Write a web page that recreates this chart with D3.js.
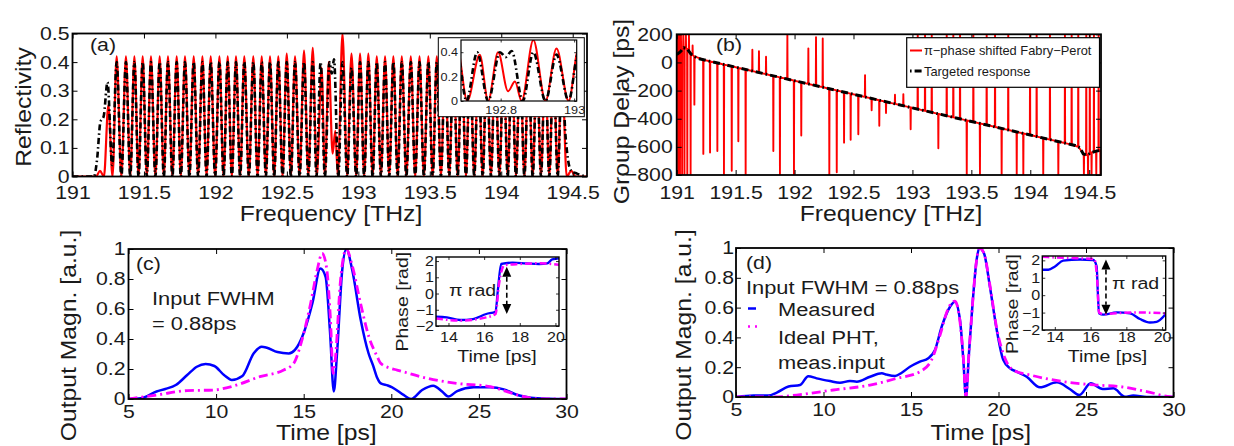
<!DOCTYPE html>
<html>
<head>
<meta charset="utf-8">
<title>Pi-phase shifted Fabry-Perot: reflectivity, group delay and output pulses</title>
<script src="https://cdn.jsdelivr.net/npm/d3@7"></script>
<style>
  html, body { margin: 0; padding: 0; background: #fff; }
  svg { display: block; }
</style>
</head>
<body>
<svg id="fig" width="1234" height="446"></svg>
<script>
// ================= data =================
// (a) reflectivity vs frequency [THz]: [frequency, reflectivity]
const reflMeasured = [
  [191.000,0],[191.165,0],[191.192,0.02],[191.220,0],[191.251,0.25],[191.280,0],[191.309,0.42],
  [191.342,0],[191.374,0.42],[191.404,0],[191.433,0.42],[191.462,0],[191.491,0.42],[191.520,0],
  [191.549,0.42],[191.580,0],[191.610,0.42],[191.639,0],[191.668,0.42],[191.699,0],[191.729,0.42],
  [191.758,0],[191.787,0.42],[191.818,0],[191.848,0.42],[191.879,0],[191.909,0.42],[191.938,0],
  [191.967,0.42],[191.998,0],[192.028,0.42],[192.057,0],[192.086,0.42],[192.115,0],[192.144,0.42],
  [192.173,0],[192.202,0.42],[192.234,0],[192.265,0.42],[192.295,0],[192.324,0.42],[192.353,0],
  [192.382,0.42],[192.411,0],[192.440,0.42],[192.470,0],[192.499,0.43],[192.528,0],[192.557,0.42],
  [192.589,0],[192.620,0.44],[192.650,0],[192.681,0.45],[192.709,0],[192.743,0.38],[192.766,0],
  [192.793,0.40],[192.820,0.08],[192.839,0.16],[192.857,0],[192.889,0.50],[192.922,0],[192.952,0.43],
  [192.985,0],[193.012,0.43],[193.041,0],[193.070,0.43],[193.100,0],[193.129,0.42],[193.158,0],
  [193.187,0.42],[193.216,0],[193.245,0.42],[193.275,0],[193.304,0.42],[193.336,0],[193.367,0.42],
  [193.398,0],[193.428,0.42],[193.459,0],[193.490,0.42],[193.520,0],[193.549,0.42],[193.578,0],
  [193.607,0.42],[193.636,0],[193.665,0.42],[193.695,0],[193.724,0.42],[193.753,0],[193.782,0.42],
  [193.811,0],[193.840,0.42],[193.870,0],[193.899,0.42],[193.928,0],[193.957,0.42],[193.987,0],
  [194.016,0.42],[194.045,0],[194.074,0.42],[194.103,0],[194.132,0.41],[194.162,0],[194.191,0.41],
  [194.220,0],[194.249,0.41],[194.278,0],[194.307,0.41],[194.336,0],[194.365,0.41],[194.395,0],
  [194.424,0.40],[194.458,0],[194.490,0.02],[194.520,0],[194.600,0]
];
const reflTarget = [
  [191.000,0],[191.150,0],[191.172,0.06],[191.195,0.19],[191.218,0.21],[191.245,0.33],[191.278,0.04],
  [191.309,0.40],[191.342,0],[191.374,0.40],[191.404,0],[191.433,0.40],[191.462,0],[191.491,0.40],
  [191.520,0],[191.549,0.40],[191.580,0],[191.610,0.40],[191.639,0],[191.668,0.40],[191.699,0],
  [191.729,0.40],[191.758,0],[191.787,0.40],[191.818,0],[191.848,0.40],[191.879,0],[191.909,0.40],
  [191.938,0],[191.967,0.40],[191.998,0],[192.028,0.40],[192.057,0],[192.086,0.40],[192.115,0],
  [192.144,0.40],[192.173,0],[192.202,0.40],[192.234,0],[192.265,0.40],[192.295,0],[192.324,0.40],
  [192.353,0],[192.382,0.40],[192.411,0],[192.440,0.40],[192.470,0],[192.499,0.40],[192.528,0],
  [192.557,0.40],[192.589,0],[192.620,0.40],[192.650,0],[192.681,0.40],[192.707,0],[192.736,0.40],
  [192.766,0],[192.798,0.40],[192.814,0.36],[192.830,0.41],[192.860,0],[192.889,0.40],[192.922,0],
  [192.952,0.38],[192.985,0],[193.012,0.40],[193.041,0],[193.070,0.40],[193.100,0],[193.129,0.40],
  [193.158,0],[193.187,0.40],[193.216,0],[193.245,0.40],[193.275,0],[193.304,0.40],[193.336,0],
  [193.367,0.40],[193.398,0],[193.428,0.40],[193.459,0],[193.490,0.40],[193.520,0],[193.549,0.40],
  [193.578,0],[193.607,0.40],[193.636,0],[193.665,0.40],[193.695,0],[193.724,0.40],[193.753,0],
  [193.782,0.40],[193.811,0],[193.840,0.40],[193.870,0],[193.899,0.40],[193.928,0],[193.957,0.40],
  [193.987,0],[194.016,0.40],[194.045,0],[194.074,0.40],[194.103,0],[194.132,0.40],[194.162,0],
  [194.191,0.40],[194.220,0],[194.249,0.40],[194.278,0],[194.307,0.40],[194.336,0],[194.365,0.40],
  [194.395,0],[194.424,0.36],[194.450,0.14],[194.470,0.05],[194.490,0.02],[194.530,0.01],[194.600,0]
];
const freqTicks = [191, 191.5, 192, 192.5, 193, 193.5, 194, 194.5];
const reflTicks = [0, 0.1, 0.2, 0.3, 0.4, 0.5];
const zoomFreqTicks = [192.8, 193];
const zoomReflTicks = [0, 0.2, 0.4];

// (b) group delay [ps]: targeted response and the spikes of the measured grating
const gdTarget = [
  [191.00,55],[191.03,75],[191.06,105],[191.09,95],[191.12,60],[191.16,38],[191.20,24],
  [192.00,-130],[193.00,-323],[194.00,-516],[194.38,-590],[194.42,-605],[194.45,-650],
  [194.48,-660],[194.52,-640],[194.56,-630],[194.60,-625]
];
const gdSpikes = [
  [191.004,200],[191.012,-800],[191.020,200],[191.028,-800],[191.036,200],[191.046,-800],
  [191.056,200],[191.066,-800],[191.078,200],[191.090,-800],[191.104,200],[191.118,-800],
  [191.135,120],[191.150,-300],
  [191.226,-650],[191.283,-640],[191.345,-630],[191.401,-800],[191.467,-770],[191.523,-560],
  [191.585,-800],[191.642,90],[191.698,80],[191.758,40],[191.820,-630],[191.876,-800],
  [191.939,200],[191.995,-800],[192.057,-520],[192.117,100],[192.182,180],[192.239,170],
  [192.295,-800],[192.358,-780],[192.420,-570],[192.476,-550],[192.541,-510],[192.598,-90],
  [192.654,-340],[192.719,-450],[192.776,-360],[192.852,-230],[192.923,-225],[192.985,-475],
  [193.045,200],[193.107,200],[193.164,200],[193.220,-610],[193.291,200],[193.347,200],
  [193.404,200],[193.461,-800],[193.517,200],[193.573,-800],[193.630,200],[193.701,200],
  [193.757,-800],[193.813,200],[193.885,-800],[193.941,-800],[193.998,200],[194.054,200],
  [194.110,-800],[194.167,200],[194.238,-800],[194.294,200],[194.351,200],[194.407,200],
  [194.455,-800],[194.475,200],[194.490,-800],[194.505,200],[194.520,-800],[194.540,200],
  [194.560,-800],[194.580,200],[194.595,-800]
];
const gdTicks = [-800, -600, -400, -200, 0, 200];

// (c) output magnitude vs time [ps]
const magMeasuredC = [
  [5.0,0],[5.7,0.005],[6.6,0.05],[7.1,0.067],[7.7,0.093],[8.35,0.16],[8.9,0.215],[9.4,0.233],
  [9.9,0.22],[10.45,0.16],[10.9,0.127],[11.5,0.153],[12.15,0.305],[12.6,0.349],[12.9,0.342],
  [13.5,0.313],[14.15,0.304],[14.5,0.327],[15.0,0.44],[15.5,0.64],[15.95,0.87],[16.25,0.815],
  [16.5,0.45],[16.72,0.05],[16.9,0.3],[17.2,0.86],[17.43,1.0],[17.77,0.86],[18.25,0.53],
  [18.7,0.305],[18.97,0.22],[19.2,0.14],[19.4,0.104],[19.8,0.09],[20.05,0.078],[20.7,0.027],
  [21.13,0],[21.76,0.06],[22.39,0.089],[22.9,0.05],[23.25,0.016],[23.76,0.053],[24.7,0.078],
  [25.66,0.078],[26.42,0.064],[27.2,0.027],[27.95,0.009],[29.0,0.002],[30.0,0]
];
const magIdealC = [
  [5.0,0],[6.64,0.027],[8.35,0.056],[9.87,0.06],[11.0,0.087],[12.5,0.149],[13.86,0.193],
  [14.43,0.238],[14.9,0.393],[15.4,0.64],[15.77,0.86],[16.05,0.97],[16.3,0.88],[16.53,0.527],
  [16.68,0.17],[16.8,0.26],[17.1,0.79],[17.43,1.0],[17.77,0.89],[18.24,0.64],[18.72,0.415],
  [19.2,0.282],[19.38,0.24],[19.95,0.205],[20.33,0.193],[22.05,0.138],[23.76,0.104],
  [25.66,0.082],[26.6,0.049],[27.56,0.016],[28.5,0],[30.0,0]
];
const phaseMeasuredC = [
  [13.3,-1.43],[13.91,-1.47],[14.65,-1.63],[15.38,-1.57],[16.12,-1.26],[16.64,-1.12],
  [16.77,0.21],[16.96,1.82],[17.6,1.9],[18.34,1.86],[19.08,1.82],[19.54,1.86],[19.82,2.1],[20.2,2.17]
];
const phaseIdealC = [
  [13.3,-1.53],[14.65,-1.67],[16.12,-1.47],[16.64,-1.26],[16.84,0.63],[17.14,1.75],
  [18.0,1.82],[19.08,1.86],[20.2,1.77]
];
const piArrowC = { t: 17.27, top: 1.65, bottom: -1.26 };

// (d) output magnitude vs time [ps]
const magMeasuredD = [
  [5.04,0],[6.0,0.01],[6.85,0.01],[7.33,0.03],[8.0,0.07],[8.66,0.08],[9.13,0.14],[9.61,0.125],
  [10.37,0.107],[10.94,0.096],[11.51,0.107],[11.9,0.103],[12.66,0.136],[13.33,0.159],[13.61,0.15],
  [14.09,0.141],[14.47,0.163],[14.94,0.203],[15.51,0.237],[15.99,0.26],[16.37,0.315],[16.75,0.47],
  [17.23,0.606],[17.51,0.64],[17.8,0.517],[17.99,0.25],[18.14,0],[18.31,0.29],[18.52,0.63],
  [18.75,0.92],[18.9,1.0],[19.17,0.965],[19.51,0.74],[19.9,0.45],[20.27,0.25],[20.66,0.193],
  [21.04,0.17],[21.61,0.136],[22.37,0.065],[23.33,0.099],[24.09,0.052],[24.62,0.013],
  [25.27,0.092],[25.95,0.054],[26.56,0.058],[27.23,0.002],[27.7,0.01],[28.47,0],[29.8,0],[30.0,0]
];
const magIdealD = [
  [5.0,0],[7.13,0],[8.47,0.013],[10.56,0.047],[12.66,0.08],[14.18,0.125],[15.51,0.17],
  [16.18,0.25],[16.66,0.416],[17.13,0.595],[17.51,0.644],[17.76,0.54],[18.0,0.25],[18.14,0],
  [18.31,0.29],[18.52,0.63],[18.75,0.92],[18.9,1.0],[19.17,0.965],[19.51,0.75],[19.9,0.46],
  [20.37,0.26],[20.85,0.18],[21.8,0.148],[23.7,0.103],[25.61,0.08],[26.94,0.07],[28.47,0.036],
  [29.8,0.002],[30.0,0]
];
const phaseMeasuredD = [
  [13.3,1.46],[13.64,1.46],[14.01,1.65],[14.47,1.98],[15.41,2.05],[16.15,2.02],[16.34,1.65],
  [16.4,0.28],[16.47,-1.04],[16.71,-1.12],[17.46,-0.99],[18.2,-1.04],[18.76,-1.37],[19.32,-1.57],
  [19.69,-1.53],[20.2,-1.08]
];
const phaseIdealD = [
  [13.3,2.2],[14.66,2.14],[16.2,2.08],[16.37,0.87],[16.47,-0.99],[16.71,-1.08],[18.38,-0.99],[20.2,-1.04]
];
const piArrowD = { t: 16.86, top: 2.05, bottom: -1.12 };

const timeTicks = [5, 10, 15, 20, 25, 30];
const magTicks = [0, 0.2, 0.4, 0.6, 0.8, 1];
const phaseTimeTicks = [14, 16, 18, 20];
const phaseTicks = [-2, -1, 0, 1, 2];

// ================= drawing helpers =================
const SX = 1.15;                       // horizontal glyph stretch of the figure font
const FONT = '"Liberation Sans", Arial, Helvetica, sans-serif';
const INK = "#1a1a1a";
const RED = "#ff0000", BLUE = "#0000ff", MAGENTA = "#ff00ff";
const svg = d3.select("#fig").attr("font-family", FONT);
const fmt = d => String(+d.toFixed(3)).replace("-", "\u2212");

function addText(g, x, y, str, size, o = {}) {
  const sx = o.sx || SX;
  return g.append("text")
    .attr("transform", `translate(${x},${y})${o.rotate ? ` rotate(${o.rotate})` : ""} scale(${sx},1)`)
    .attr("font-size", size)
    .attr("text-anchor", o.anchor || "start")
    .attr("fill", INK)
    .text(str);
}

let clipCount = 0;
// One axes: white background, clipped plot layer, frame with inward ticks on all sides
function makeAxes(xs, ys, o) {
  const [xl, xr] = xs.range(), [yb, yt] = ys.range();
  const g = svg.append("g");
  if (o.background) g.append("rect").attr("x", xl).attr("y", yt)
      .attr("width", xr - xl).attr("height", yb - yt).attr("fill", "#fff");
  const id = "clip" + (clipCount++);
  g.append("clipPath").attr("id", id).append("rect")
    .attr("x", xl).attr("y", yt).attr("width", xr - xl).attr("height", yb - yt);
  const plot = g.append("g").attr("clip-path", `url(#${id})`);
  const frame = g.append("g");
  const tl = o.tickLen;
  const clean = sel => {
    sel.attr("font-family", null).attr("font-size", null);
    sel.select(".domain").remove();
    sel.selectAll(".tick line").attr("stroke", "#000").attr("stroke-width", o.tickWidth || 1);
  };
  const bottom = frame.append("g").attr("transform", `translate(0,${yb})`)
    .call(d3.axisBottom(xs).tickValues(o.xTicks).tickSizeInner(-tl).tickSizeOuter(0).tickFormat(fmt));
  clean(bottom);
  bottom.selectAll(".tick text")
    .attr("y", o.xLabelY).attr("dy", null)
    .attr("font-size", o.tickFont).attr("fill", INK)
    .attr("transform", `scale(${SX},1)`);
  const top = frame.append("g").attr("transform", `translate(0,${yt})`)
    .call(d3.axisTop(xs).tickValues(o.xTicks).tickSizeInner(-tl).tickSizeOuter(0).tickFormat(""));
  clean(top);
  const left = frame.append("g").attr("transform", `translate(${xl},0)`)
    .call(d3.axisLeft(ys).tickValues(o.yTicks).tickSizeInner(-tl).tickSizeOuter(0).tickFormat(fmt));
  clean(left);
  left.selectAll(".tick text")
    .attr("x", -o.yLabelPad / SX)
    .attr("font-size", o.tickFont).attr("fill", INK)
    .attr("transform", `scale(${SX},1)`);
  const right = frame.append("g").attr("transform", `translate(${xr},0)`)
    .call(d3.axisRight(ys).tickValues(o.yTicks).tickSizeInner(-tl).tickSizeOuter(0).tickFormat(""));
  clean(right);
  frame.append("rect").attr("x", xl).attr("y", yt).attr("width", xr - xl).attr("height", yb - yt)
    .attr("fill", "none").attr("stroke", "#000").attr("stroke-width", o.boxWidth);
  return { g, plot, frame };
}

function drawLine(layer, data, xs, ys, style, curve = d3.curveMonotoneX) {
  const line = d3.line().x(d => xs(d[0])).y(d => ys(d[1])).curve(curve);
  return layer.append("path").datum(data).attr("d", line)
    .attr("fill", "none").attr("stroke", style.color).attr("stroke-width", style.width)
    .attr("stroke-dasharray", style.dash || null)
    .attr("stroke-linejoin", "round").attr("stroke-linecap", style.cap || "butt");
}

function drawPiArrow(layer, arrow, xs, ys) {
  const x = xs(arrow.t), y1 = ys(arrow.top), y2 = ys(arrow.bottom);
  const hw = 4.5, hl = 10;
  layer.append("line").attr("x1", x).attr("x2", x).attr("y1", y1 + hl).attr("y2", y2 - hl)
    .attr("stroke", "#000").attr("stroke-width", 1.6).attr("stroke-dasharray", "5,3");
  layer.append("path").attr("d", `M${x},${y1}L${x - hw},${y1 + hl}L${x + hw},${y1 + hl}Z`).attr("fill", "#000");
  layer.append("path").attr("d", `M${x},${y2}L${x - hw},${y2 - hl}L${x + hw},${y2 - hl}Z`).attr("fill", "#000");
}

const mainStyle = { tickLen: 5, tickWidth: 1, boxWidth: 1.8, tickFont: 18.5, yLabelPad: 3 };

// ================= (a) reflectivity =================
const xA = d3.scaleLinear().domain([191, 194.6]).range([72.5, 587]);
const yA = d3.scaleLinear().domain([0, 0.5]).range([176.5, 33.5]);
const axA = makeAxes(xA, yA, { ...mainStyle, xTicks: freqTicks, yTicks: reflTicks, xLabelY: 23 });
drawLine(axA.plot, reflMeasured, xA, yA, { color: RED, width: 2.2 });
drawLine(axA.plot, reflTarget, xA, yA, { color: "#000", width: 2.6, dash: "6,3,1.6,3" });
addText(svg, 90, 51, "(a)", 18.5);
addText(svg, 30.5, 107, "Reflectivity", 21.5, { rotate: -90, anchor: "middle" });
addText(svg, 331, 221, "Frequency [THz]", 21.5, { anchor: "middle" });

// zoomed view of the phase-shift region
svg.append("rect").attr("x", 438.3).attr("y", 37.7).attr("width", 146).attr("height", 79)
  .attr("fill", "#fff").attr("stroke", "#000").attr("stroke-width", 1);
const xAz = d3.scaleLinear().domain([192.692, 193.007]).range([461, 576.7]);
const yAz = d3.scaleLinear().domain([0, 0.5]).range([101, 40]);
const axAz = makeAxes(xAz, yAz, { tickLen: 2.5, tickWidth: 0.8, boxWidth: 1.2, tickFont: 11,
  yLabelPad: 3, xTicks: zoomFreqTicks, yTicks: zoomReflTicks, xLabelY: 13 });
drawLine(axAz.plot, reflMeasured, xAz, yAz, { color: RED, width: 2 });
drawLine(axAz.plot, reflTarget, xAz, yAz, { color: "#000", width: 2.6, dash: "6,3,1.6,3" });

// ================= (b) group delay =================
const xB = d3.scaleLinear().domain([191, 194.6]).range([676.7, 1101]);
const yB = d3.scaleLinear().domain([-800, 200]).range([175, 34.3]);
const axB = makeAxes(xB, yB, { ...mainStyle, yLabelPad: 4, xTicks: freqTicks, yTicks: gdTicks, xLabelY: 24.5 });
// measured delay follows the target and jumps at each reflection null
const gdBase = d3.scaleLinear().domain(gdTarget.map(d => d[0])).range(gdTarget.map(d => d[1]));
const halfWidth = 0.0018;
const gdMeasured = [[191, gdBase(191)]];
gdSpikes.forEach(([f, v]) => {
  gdMeasured.push([f - halfWidth, gdBase(f - halfWidth)], [f, v], [f + halfWidth, gdBase(f + halfWidth)]);
});
gdMeasured.push([194.6, gdBase(194.6)]);
drawLine(axB.plot, gdMeasured, xB, yB, { color: RED, width: 1.9 }, d3.curveLinear);
drawLine(axB.plot, gdTarget, xB, yB, { color: "#000", width: 3, dash: "7,3,1.6,3" }, d3.curveLinear);
addText(svg, 716, 51, "(b)", 18.5);
addText(svg, 628.8, 111.5, "Group Delay [ps]", 21.5, { rotate: -90, anchor: "middle" });
addText(svg, 891, 221, "Frequency [THz]", 21.5, { anchor: "middle" });

// legend
const legB = svg.append("g");
legB.append("rect").attr("x", 906.7).attr("y", 37.7).attr("width", 192.8).attr("height", 49.6)
  .attr("fill", "#fff").attr("stroke", "#000").attr("stroke-width", 1.2);
legB.append("line").attr("x1", 910).attr("x2", 922).attr("y1", 50.5).attr("y2", 50.5)
  .attr("stroke", RED).attr("stroke-width", 2);
legB.append("line").attr("x1", 910).attr("x2", 922).attr("y1", 71).attr("y2", 71)
  .attr("stroke", "#000").attr("stroke-width", 3).attr("stroke-dasharray", "1.6,3,7,3");
addText(legB, 924, 55, "\u03c0\u2212phase shifted Fabry\u2212Perot", 12.6, { sx: 1.02 });
addText(legB, 924, 75.5, "Targeted response", 12.6, { sx: 1.02 });

// ================= (c) =================
const xC = d3.scaleLinear().domain([5, 30]).range([128.5, 566.5]);
const yC = d3.scaleLinear().domain([0, 1]).range([399, 249]);
const axC = makeAxes(xC, yC, { ...mainStyle, xTicks: timeTicks, yTicks: magTicks, xLabelY: 19 });
drawLine(axC.plot, magMeasuredC, xC, yC, { color: BLUE, width: 2.5 });
drawLine(axC.plot, magIdealC, xC, yC, { color: MAGENTA, width: 2.8, dash: "9,4,2,4" });
addText(svg, 136, 270, "(c)", 18.5);
addText(svg, 152, 304.5, "Input FWHM", 19);
addText(svg, 152, 330, "= 0.88ps", 19);
addText(svg, 75.5, 335.5, "Output Magn. [a.u.]", 21.5, { rotate: -90, anchor: "middle" });
addText(svg, 326.3, 439.5, "Time [ps]", 21.5, { anchor: "middle" });

const insetStyle = { tickLen: 3, tickWidth: 0.8, boxWidth: 1.4, tickFont: 14, yLabelPad: 2 };
const xCi = d3.scaleLinear().domain([13.3, 20.2]).range([436, 559]);
const yCi = d3.scaleLinear().domain([-2, 2.25]).range([326, 257]);
const axCi = makeAxes(xCi, yCi, { ...insetStyle, background: true, xTicks: phaseTimeTicks, yTicks: phaseTicks, xLabelY: 16 });
drawLine(axCi.plot, phaseMeasuredC, xCi, yCi, { color: BLUE, width: 2.3 });
drawLine(axCi.plot, phaseIdealC, xCi, yCi, { color: MAGENTA, width: 2.5, dash: "7,3,1.6,3" });
drawPiArrow(axCi.frame, piArrowC, xCi, yCi);
addText(svg, 449, 296, "\u03c0 rad", 17);
addText(svg, 408, 301.7, "Phase [rad]", 17, { rotate: -90, anchor: "middle" });
addText(svg, 497, 362, "Time [ps]", 17, { anchor: "middle" });

// ================= (d) =================
const xD = d3.scaleLinear().domain([5, 30]).range([736, 1173.5]);
const yD = d3.scaleLinear().domain([0, 1]).range([397, 248]);
const axD = makeAxes(xD, yD, { ...mainStyle, yLabelPad: 2, xTicks: timeTicks, yTicks: magTicks, xLabelY: 19 });
drawLine(axD.plot, magMeasuredD, xD, yD, { color: BLUE, width: 2.5 });
drawLine(axD.plot, magIdealD, xD, yD, { color: MAGENTA, width: 2.8, dash: "9,4,2,4" });
addText(svg, 746, 269, "(d)", 18.5);
addText(svg, 690.5, 335, "Output Magn. [a.u.]", 21.5, { rotate: -90, anchor: "middle" });
addText(svg, 980.8, 439.5, "Time [ps]", 21.5, { anchor: "middle" });

// legend
const legD = svg.append("g");
addText(legD, 746, 293.5, "Input FWHM = 0.88ps", 19);
legD.append("line").attr("x1", 748).attr("x2", 756).attr("y1", 308.5).attr("y2", 308.5)
  .attr("stroke", BLUE).attr("stroke-width", 2.5);
legD.append("line").attr("x1", 748).attr("x2", 757).attr("y1", 326.5).attr("y2", 326.5)
  .attr("stroke", MAGENTA).attr("stroke-width", 2.6).attr("stroke-dasharray", "2,5");
addText(legD, 778, 316, "Measured", 19);
addText(legD, 778, 343.5, "Ideal PHT,", 19);
addText(legD, 778, 368.5, "meas.input", 19);

const xDi = d3.scaleLinear().domain([13.3, 20.2]).range([1042.3, 1165.7]);
const yDi = d3.scaleLinear().domain([-2, 2.25]).range([330, 256]);
const axDi = makeAxes(xDi, yDi, { ...insetStyle, background: true, xTicks: phaseTimeTicks, yTicks: phaseTicks, xLabelY: 12 });
drawLine(axDi.plot, phaseMeasuredD, xDi, yDi, { color: BLUE, width: 2.3 });
drawLine(axDi.plot, phaseIdealD, xDi, yDi, { color: MAGENTA, width: 2.5, dash: "7,3,1.6,3" });
drawPiArrow(axDi.frame, piArrowD, xDi, yDi);
addText(svg, 1112, 289, "\u03c0 rad", 17);
addText(svg, 1018, 304, "Phase [rad]", 17, { rotate: -90, anchor: "middle" });
addText(svg, 1107.5, 362, "Time [ps]", 17, { anchor: "middle" });
</script>
</body>
</html>
